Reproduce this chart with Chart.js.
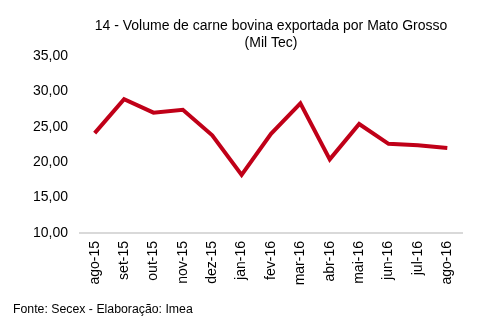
<!DOCTYPE html>
<html>
<head>
<meta charset="utf-8">
<script src="https://cdn.jsdelivr.net/npm/chart.js@4"></script>
<style>
    html, body { margin: 0; padding: 0; background: #fff; }
    #wrap { position: relative; width: 490px; height: 331px; }
    #fonte { position: absolute; left: 13px; top: 302px; font: 12.3px "Liberation Sans", Arial, sans-serif; color: #000; }
</style>
</head>
<body>
<div id="wrap">
    <canvas id="chartCarne" width="490" height="331"></canvas>
    <div id="fonte">Fonte: Secex - Elaboração: Imea</div>
</div>
<script>
    var meses = ['ago-15', 'set-15', 'out-15', 'nov-15', 'dez-15', 'jan-16', 'fev-16',
        'mar-16', 'abr-16', 'mai-16', 'jun-16', 'jul-16', 'ago-16'];
    var volume = [24.1, 28.9, 27.0, 27.4, 23.8, 18.2, 24.0, 28.3, 20.4, 25.4, 22.6, 22.4, 22.0];
    var titulo = ['14 - Volume de carne bovina exportada por Mato Grosso', '(Mil Tec)'];

    var fonte = '"Liberation Sans", Arial, sans-serif';

    function formatarNumero(v) {
        return v.toFixed(2).replace('.', ',');
    }

    new Chart(document.getElementById('chartCarne'), {
        type: 'line',
        data: {
            labels: meses,
            datasets: [{
                label: 'Volume',
                data: volume,
                borderColor: '#c00018',
                borderWidth: 4,
                pointRadius: 0,
                tension: 0,
                fill: false
            }]
        },
        options: {
            responsive: false,
            animation: false,
            layout: { padding: { top: 17, left: 0, right: 28, bottom: 43 } },
            plugins: {
                legend: { display: false },
                tooltip: { enabled: false },
                title: {
                    display: true,
                    text: titulo,
                    fullSize: false,
                    color: '#000',
                    font: { family: fonte, size: 14, weight: 'normal', lineHeight: 1.25 },
                    padding: { top: 0, bottom: 4 }
                }
            },
            scales: {
                x: {
                    offset: true,
                    grid: { display: false, drawTicks: false },
                    border: { display: true, color: '#d9d9d9', width: 2 },
                    ticks: {
                        color: '#000',
                        font: { family: fonte, size: 14 },
                        minRotation: 90,
                        maxRotation: 90,
                        padding: 8,
                        autoSkip: false
                    },
                    afterFit: function (scale) { scale.height = 55; }
                },
                y: {
                    min: 10,
                    max: 35,
                    grid: { display: false, drawTicks: false },
                    border: { display: false },
                    ticks: {
                        stepSize: 5,
                        color: '#000',
                        font: { family: fonte, size: 14 },
                        padding: 12,
                        callback: function (v) { return formatarNumero(v); }
                    },
                    afterFit: function (scale) { scale.width = 80; }
                }
            }
        }
    });
</script>
</body>
</html>
